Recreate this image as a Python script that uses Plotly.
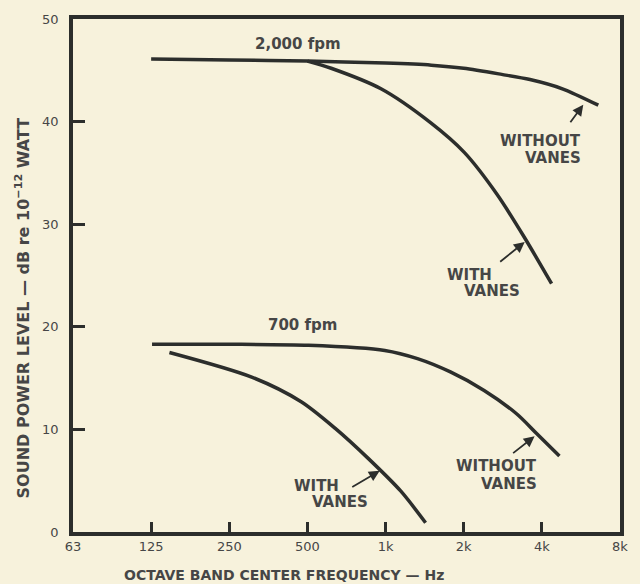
import plotly.graph_objects as go

# ---- data ----
f_2000_without = [125, 250, 500, 1000, 1500, 2000, 2800, 3600, 4800, 6600]
db_2000_without = [46.1, 46.0, 45.9, 45.7, 45.5, 45.2, 44.6, 44.1, 43.2, 41.6]

f_2000_with = [500, 617, 960, 1490, 2010, 2690, 3410, 4360]
db_2000_with = [45.9, 45.2, 43.2, 39.9, 37.0, 32.9, 28.8, 24.2]

f_700_without = [126, 250, 505, 993, 1327, 1777, 2397, 3204, 3818, 4674]
db_700_without = [18.3, 18.3, 18.2, 17.7, 16.9, 15.6, 13.8, 11.5, 9.6, 7.4]

f_700_with = [147, 305, 473, 640, 855, 1143, 1426]
db_700_with = [17.5, 15.1, 12.7, 10.1, 7.2, 4.0, 0.9]

x_tickvals = [62.5, 125, 250, 500, 1000, 2000, 4000, 8000]
x_ticktext = ["63", "125", "250", "500", "1k", "2k", "4k", "8k"]
y_tickvals = [0, 10, 20, 30, 40, 50]

BG = "#f7f2dc"
INK = "#2c2e2c"
TXT = "#464646"
FONT = "DejaVu Sans"

# plot area in pixels
L, R, T, B = 73, 624, 12, 532
W, H = 640, 584


def px(x, y):
    return (x - L) / (R - L), (B - y) / (B - T)


fig = go.Figure()
for fx, dy in [(f_2000_without, db_2000_without), (f_2000_with, db_2000_with),
               (f_700_without, db_700_without), (f_700_with, db_700_with)]:
    fig.add_trace(go.Scatter(x=fx, y=dy, mode="lines",
                             line=dict(color=INK, width=3.5, shape="spline", smoothing=0.8),
                             hoverinfo="skip", showlegend=False))

annotations = []


def label(text, x, y, size=15, xanchor="center"):
    ax_, ay_ = px(x, y)
    annotations.append(dict(text=f"<b>{text}</b>", x=ax_, y=ay_, xref="paper", yref="paper",
                            xanchor=xanchor, yanchor="middle", showarrow=False,
                            font=dict(family=FONT, size=size, color=TXT)))


def arrow(hx, hy, tx, ty):
    ax_, ay_ = px(hx, hy)
    annotations.append(dict(text="", x=ax_, y=ay_, xref="paper", yref="paper",
                            ax=tx - hx, ay=ty - hy, axref="pixel", ayref="pixel",
                            showarrow=True, arrowhead=2, arrowsize=1.2, arrowwidth=1.8,
                            arrowcolor=INK))


label("2,000 fpm", 300, 37, 15)
label("700 fpm", 304, 322, 15)

label("WITHOUT", 587, 136, 15, "right")
label("VANES", 587, 153, 15, "right")
arrow(587, 99, 573, 118)

label("WITH", 472, 271, 15)
label("VANES", 495, 288, 15)
arrow(528, 238, 502, 259)

label("WITH", 318, 485, 15)
label("VANES", 342, 502, 15)
arrow(382, 470, 353, 487)

label("WITHOUT", 542, 465, 15, "right")
label("VANES", 542, 483, 15, "right")
arrow(538, 435, 515, 453)

# axis titles
tx, ty = px(286, 576)
annotations.append(dict(text="<b>OCTAVE BAND CENTER FREQUENCY — Hz</b>", x=tx, y=ty,
                        xref="paper", yref="paper", showarrow=False,
                        xanchor="center", yanchor="middle",
                        font=dict(family=FONT, size=14, color=TXT)))
tx, ty = px(22, 305)
annotations.append(dict(text="<b>SOUND POWER LEVEL — dB re 10<sup>−12</sup> WATT</b>", x=tx, y=ty,
                        xref="paper", yref="paper", showarrow=False, textangle=-90,
                        xanchor="center", yanchor="middle",
                        font=dict(family=FONT, size=16, color=TXT)))

fig.update_layout(
    width=W, height=H,
    margin=dict(l=L, r=W - R, t=T, b=H - B),
    paper_bgcolor=BG, plot_bgcolor=BG,
    annotations=annotations,
    showlegend=False,
)
fig.update_xaxes(type="log", range=[1.79588, 3.90309], tickvals=x_tickvals, ticktext=x_ticktext,
                 showline=True, linecolor=INK, linewidth=3.5, mirror=True,
                 ticks="inside", ticklen=10, tickwidth=3, tickcolor=INK,
                 showgrid=False, zeroline=False,
                 tickfont=dict(family=FONT, size=13, color=TXT))
fig.update_yaxes(range=[0, 50], tickvals=y_tickvals,
                 showline=True, linecolor=INK, linewidth=3.5, mirror=True,
                 ticks="inside", ticklen=12, tickwidth=3, tickcolor=INK,
                 showgrid=False, zeroline=False, ticklabelstandoff=8,
                 tickfont=dict(family=FONT, size=13, color=TXT))

fig.write_html(
    "out.html",
    config={"displayModeBar": False},
    post_script="document.body.style.margin='0';document.body.style.background='%s';" % BG,
)
